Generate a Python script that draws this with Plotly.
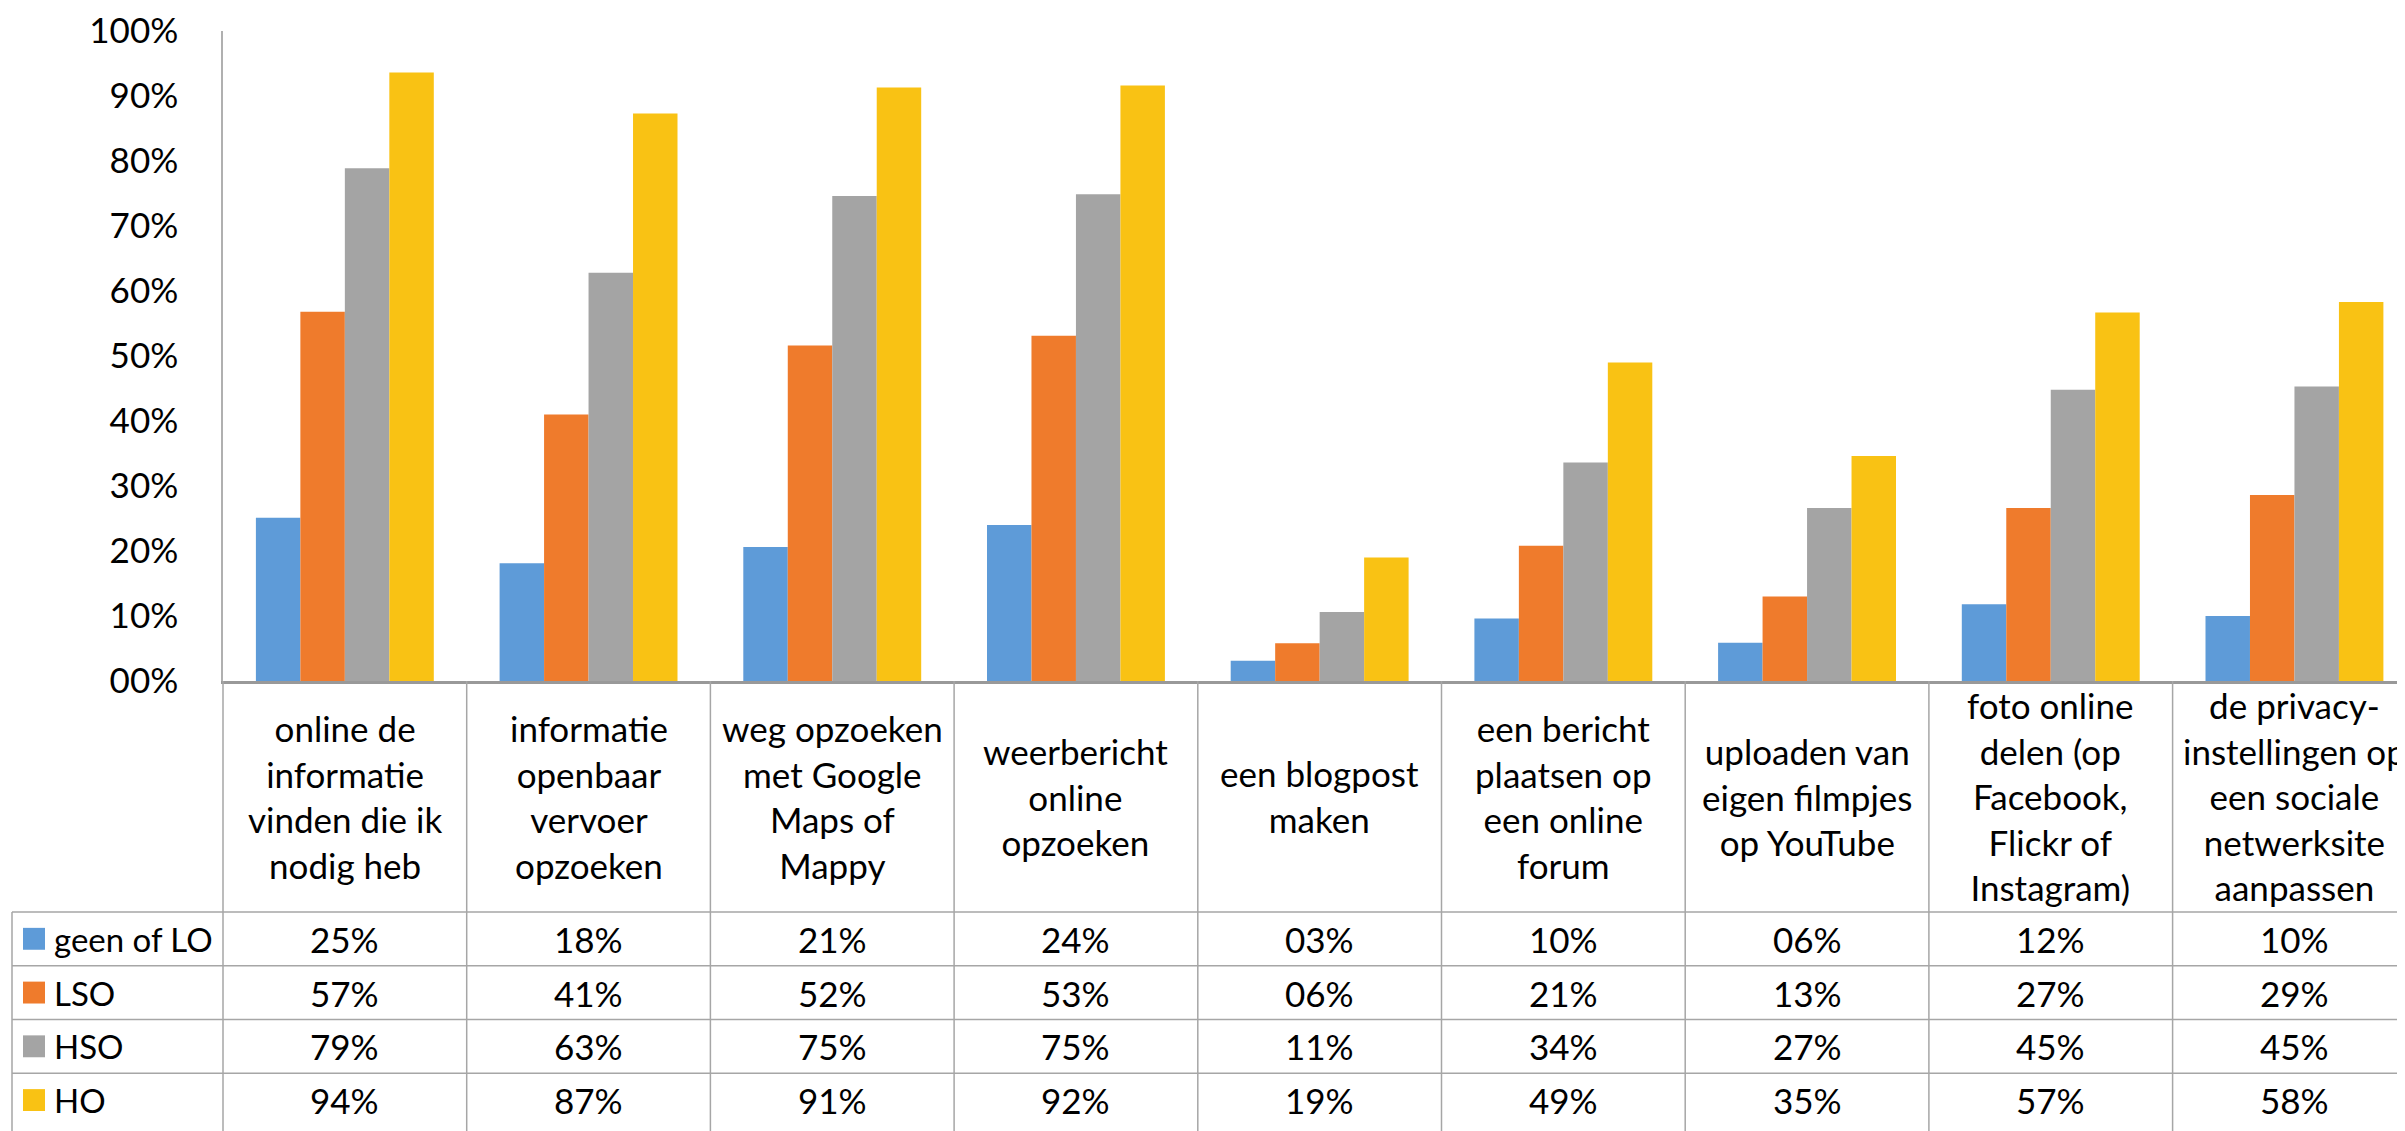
import plotly.graph_objects as go

categories = [
    "online de<br>informatie<br>vinden die ik<br>nodig heb",
    "informatie<br>openbaar<br>vervoer<br>opzoeken",
    "weg opzoeken<br>met Google<br>Maps of<br>Mappy",
    "weerbericht<br>online<br>opzoeken",
    "een blogpost<br>maken",
    "een bericht<br>plaatsen op<br>een online<br>forum",
    "uploaden van<br>eigen filmpjes<br>op YouTube",
    "foto online<br>delen (op<br>Facebook,<br>Flickr of<br>Instagram)",
    "de privacy-<br>instellingen op<br>een sociale<br>netwerksite<br>aanpassen",
]
series_names = ["geen of LO", "LSO", "HSO", "HO"]
geen_of_lo = [0.251, 0.181, 0.206, 0.240, 0.031, 0.096, 0.059, 0.118, 0.100]
lso = [0.568, 0.410, 0.516, 0.531, 0.058, 0.208, 0.130, 0.266, 0.286]
hso = [0.789, 0.628, 0.746, 0.749, 0.106, 0.336, 0.266, 0.448, 0.453]
ho = [0.936, 0.873, 0.913, 0.916, 0.190, 0.490, 0.346, 0.567, 0.583]
series_values = [geen_of_lo, lso, hso, ho]
y_ticks = [0.0, 0.1, 0.2, 0.3, 0.4, 0.5, 0.6, 0.7, 0.8, 0.9, 1.0]

colors = ["#5E9BD8", "#EF7B2C", "#A4A4A4", "#F9C214"]
FONT = "Lato"
FS = 35
OFF = 8                       # page body margin in the browser
PAGE_W, PAGE_H = 2405, 1131
W, H = PAGE_W - OFF, PAGE_H - OFF
# page-pixel geometry of the reference
L, T, B = 223, 28, 681
CAT_W = 243.7
GRID = "#A6A6A6"

l_m, t_m, b_m = L - OFF, T - OFF, PAGE_H - B
PW, PH = W - l_m, B - T


def pct(v):
    return "%02d%%" % round(v * 100)


def px(x):
    return (x - L) / PW


def py(y):
    return (B - y) / PH


x_idx = list(range(len(categories)))
fig = go.Figure()
for name, vals, col in zip(series_names, series_values, colors):
    fig.add_trace(go.Bar(x=x_idx, y=vals, name=name, marker=dict(color=col, line=dict(width=0))))

shapes = []
annotations = []

header_top, row_top = B, 913
row_h = 54
rows_y = [row_top + i * row_h for i in range(4)]

for y in rows_y:
    shapes.append(dict(type="line", xref="paper", yref="paper", x0=px(12), x1=px(PAGE_W + 5),
                       y0=py(y), y1=py(y), line=dict(color=GRID, width=1.5)))
shapes.append(dict(type="line", xref="paper", yref="paper", x0=px(12), x1=px(12),
                   y0=py(row_top), y1=py(PAGE_H + 5), line=dict(color=GRID, width=1.5)))
for k in range(len(categories)):
    xx = px(L + k * CAT_W)
    shapes.append(dict(type="line", xref="paper", yref="paper", x0=xx, x1=xx,
                       y0=py(header_top), y1=py(PAGE_H + 5), line=dict(color=GRID, width=1.5)))

for i, c in enumerate(categories):
    annotations.append(dict(x=i, xref="x", y=py(797), yref="paper", text=c, showarrow=False,
                            xanchor="center", yanchor="middle", align="center",
                            font=dict(family=FONT, size=FS, color="#000")))

for r, (name, vals, col) in enumerate(zip(series_names, series_values, colors)):
    cy = rows_y[r] + row_h / 2
    shapes.append(dict(type="rect", xref="paper", yref="paper", x0=px(23), x1=px(45),
                       y0=py(cy - 11), y1=py(cy + 11), fillcolor=col, line=dict(width=0)))
    annotations.append(dict(x=px(52), xref="paper", y=py(cy), yref="paper", text=name,
                            showarrow=False, xanchor="left", yanchor="middle",
                            font=dict(family=FONT, size=33, color="#000")))
    for i, v in enumerate(vals):
        annotations.append(dict(x=i, xref="x", y=py(cy), yref="paper", text=pct(v),
                                showarrow=False, xanchor="center", yanchor="middle",
                                font=dict(family=FONT, size=FS, color="#000")))

fig.update_layout(
    width=W, height=H,
    margin=dict(l=l_m, r=0, t=t_m, b=b_m, pad=0),
    paper_bgcolor="white", plot_bgcolor="white",
    barmode="group", bargap=0.27, bargroupgap=0,
    showlegend=False,
    shapes=shapes, annotations=annotations,
    xaxis=dict(range=[-0.5, PW / CAT_W - 0.5], showticklabels=False, showgrid=False,
               zeroline=False, showline=True, linecolor="#999999", linewidth=2.5,
               ticks="", fixedrange=True),
    yaxis=dict(range=[0, 1], tickvals=y_ticks, ticktext=[pct(v) for v in y_ticks],
               showgrid=False, zeroline=False, showline=True, linecolor="#B0B0B0",
               linewidth=1.5, ticks="", ticklabelstandoff=36, ticklabeloverflow="allow",
               tickfont=dict(family=FONT, size=FS, color="#000"), fixedrange=True),
)

fig.write_html("out.html")
